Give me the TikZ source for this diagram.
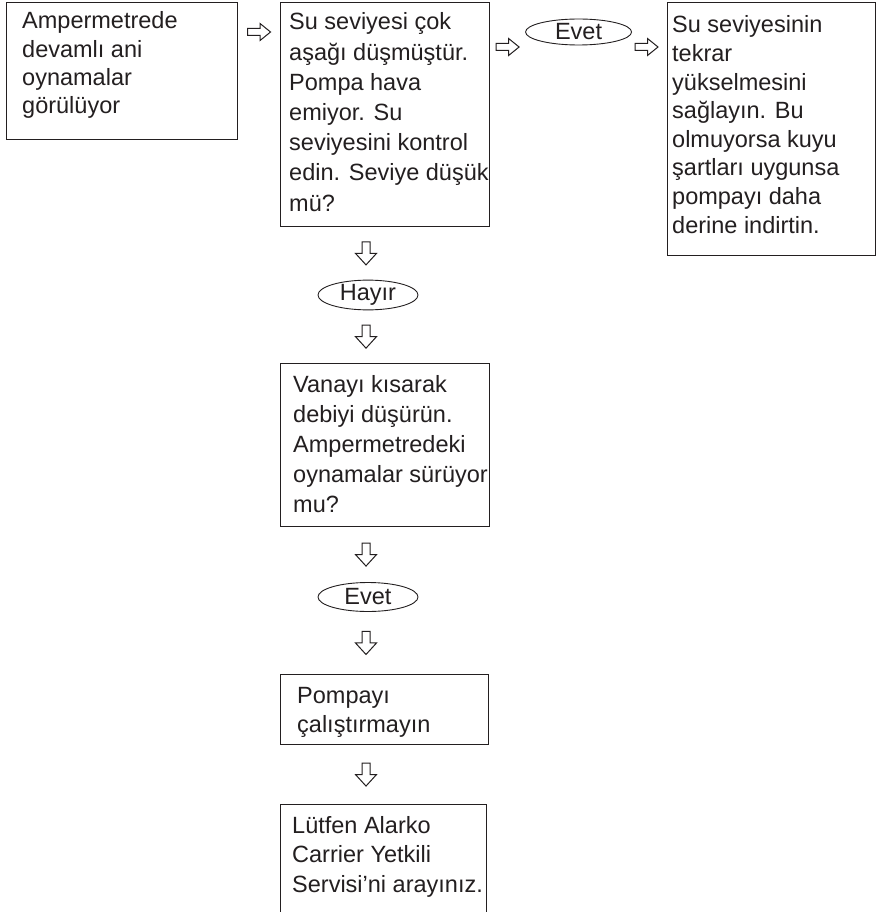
\documentclass[tikz,border=0pt]{standalone}
\usepackage{fontspec}
\setmainfont{Liberation Sans}
\usetikzlibrary{shapes.geometric,calc}
\definecolor{ink}{HTML}{231F20}
\newcommand{\boxtext}[3]{\parbox[t]{#1pt}{\fontsize{23.5}{#2}\selectfont #3}}
\tikzset{
  x=1pt, y=-1pt,
  flowbox/.style={draw=ink, line width=1.1pt, rectangle, inner sep=0pt, anchor=north west},
  flowtxt/.style={inner sep=0pt, anchor=base west, text=ink},
  answer/.style={draw=ink, line width=0.9pt, ellipse, inner sep=0pt, minimum width=100pt, minimum height=27pt, font=\fontsize{23.5}{28}\selectfont, text=ink},
  arrowline/.style={draw=ink, line width=1pt, line join=miter},
  darrow/.pic={\path[arrowline] (-4,-11.5) -- (4,-11.5) -- (4,0) -- (10.5,0) -- (0,11.5) -- (-10.5,0) -- (-4,0) -- cycle;},
  rarrow/.pic={\path[arrowline] (-11.5,-3.5) -- (1,-3.5) -- (1,-8.5) -- (11.5,0) -- (1,8.5) -- (1,3.5) -- (-11.5,3.5) -- cycle;}
}
\begin{document}
\begin{tikzpicture}
\clip (0,0) rectangle (878,912);
\fill[white] (0,0) rectangle (878,912);
% boxes
\node[flowbox, minimum width=231pt, minimum height=137pt] (A) at (6,2) {};
\node[flowbox, minimum width=209pt, minimum height=224pt] (B) at (280,2) {};
\node[flowbox, minimum width=208pt, minimum height=253pt] (C) at (667,2) {};
\node[flowbox, minimum width=209pt, minimum height=163pt] (D) at (280,363) {};
\node[flowbox, minimum width=208pt, minimum height=70pt] (E) at (280,674) {};
\node[flowbox, minimum width=206pt, minimum height=130pt] (F) at (280,804) {};
% texts
\node[flowtxt] (tA) at ($(A.north west)+(16,27)$) {\boxtext{215}{28.3}{Ampermetrede\\devamlı ani\\oynamalar\\görülüyor}};
\node[flowtxt] (tB) at ($(B.north west)+(9,28)$) {\boxtext{205}{30.2}{Su seviyesi çok\\aşağı düşmüştür.\\Pompa hava\\emiyor. Su\\seviyesini kontrol\\edin. Seviye düşük\\mü?}};
\node[flowtxt] (tC) at ($(C.north west)+(5,31)$) {\boxtext{205}{28.6}{Su seviyesinin\\tekrar\\yükselmesini\\sağlayın. Bu\\olmuyorsa kuyu\\şartları uygunsa\\pompayı daha\\derine indirtin.}};
\node[flowtxt] (tD) at ($(D.north west)+(13,29)$) {\boxtext{205}{30}{Vanayı kısarak\\debiyi düşürün.\\Ampermetredeki\\oynamalar sürüyor\\mu?}};
\node[flowtxt] (tE) at ($(E.north west)+(17,29)$) {\boxtext{200}{29}{Pompayı\\çalıştırmayın}};
\node[flowtxt] (tF) at ($(F.north west)+(12,29)$) {\boxtext{200}{29.5}{Lütfen Alarko\\Carrier Yetkili\\Servisi’ni arayınız.}};
% answers
\node[answer, minimum width=106pt, minimum height=26pt] (evet1) at ($(B.north east)!0.5!(C.north west)+(0,30)$) {Evet};
\node[answer] (hayir) at (368,295) {Hayır};
\node[answer, minimum height=29pt] (evet2) at (368,597) {Evet};
% horizontal arrows
\coordinate (h1) at ($(A.north east)!0.5!(B.north west)+(0,30)$);
\coordinate (h2) at ($(B.north east)!0.5!(evet1.west)+(0,30)$);
\coordinate (h3) at ($(evet1.east)!0.5!(C.north west)+(0,30)$);
\pic at (h1) {rarrow};
\pic at (h2) {rarrow};
\pic at ($(h3)+(-3,0)$) {rarrow};
% vertical arrows
\coordinate (v1) at (hayir.north |- B.south);
\coordinate (v2) at (hayir.south |- D.north);
\coordinate (v3) at (evet2.north |- D.south);
\coordinate (v4) at (evet2.south |- E.north);
\coordinate (v5) at (evet2.south |- E.south);
\coordinate (v5b) at (evet2.south |- F.north);
\pic at ($(v1)!0.5!(hayir.north)+(-2,0)$) {darrow};
\pic at ($(hayir.south)!0.5!(v2)+(-2,0)$) {darrow};
\pic at ($(v3)!0.5!(evet2.north)+(-2,0)$) {darrow};
\pic at ($(evet2.south)!0.5!(v4)+(-2,0)$) {darrow};
\pic at ($(v5)!0.5!(v5b)+(-2,0)$) {darrow};
\end{tikzpicture}
\end{document}
